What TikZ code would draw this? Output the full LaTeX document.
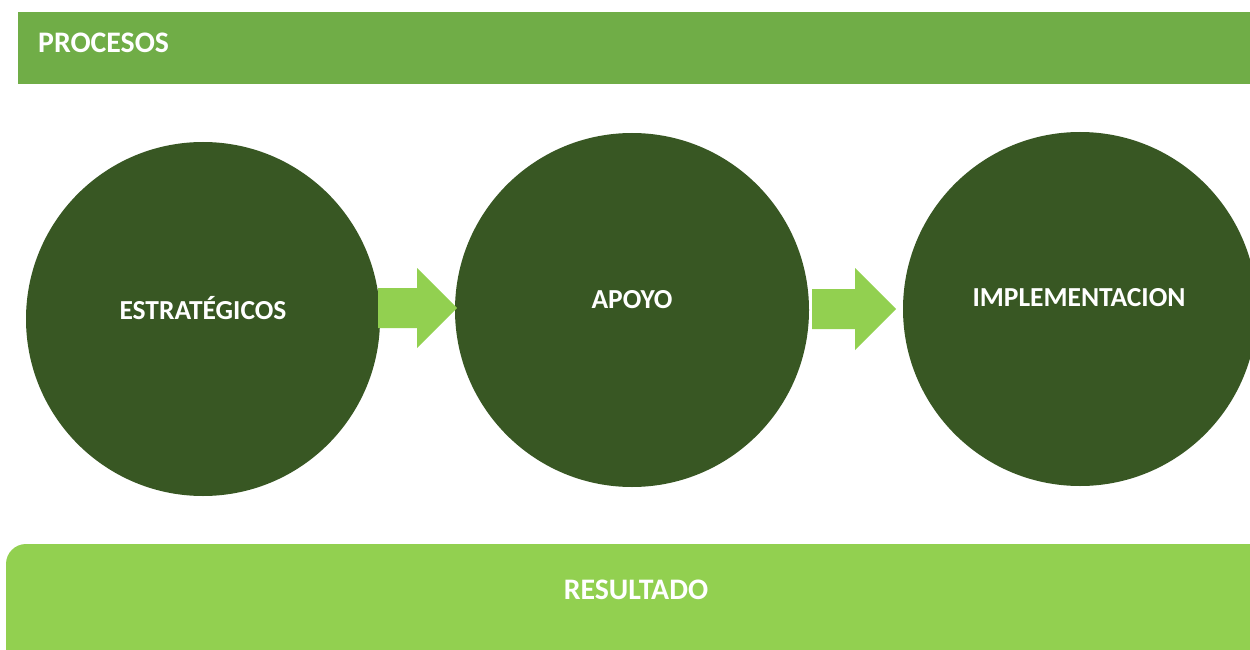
\documentclass[tikz,border=0pt]{standalone}
\usepackage{fontspec}
\setmainfont{Carlito}
\definecolor{barGreen}{HTML}{70AD47}
\definecolor{darkGreen}{HTML}{385723}
\definecolor{lightGreen}{HTML}{92D050}
\tikzset{
  px/.style={x=1pt,y=-1pt},
  lbl/.style={text=white,font=\fontsize{27.5}{32}\selectfont\bfseries,inner sep=0pt},
  barlbl/.style={lbl,font=\fontsize{29.8}{34}\selectfont\bfseries},
  stage/.style={circle,fill=darkGreen,minimum size=354pt,inner sep=0pt},
  flow/.style={fill=lightGreen}
}
\begin{document}
\begin{tikzpicture}[px]
\useasboundingbox (0,0) rectangle (1250,650);
\clip (0,0) rectangle (1250,650);
% top bar
\fill[barGreen] (18,12) rectangle (1260,84);
\node[barlbl,anchor=west] (procesos) at (38,43) {PROCESOS};
% circles
\node[stage] (c1) at (203,319) {};
\node[stage] (c2) at (632,310) {};
\node[stage] (c3) at (1080,309) {};
\node[lbl] (t1) at (203,308) {ESTRATÉGICOS};
\node[lbl] (t2) at (632,300) {APOYO};
\node[lbl] (t3) at (1079,298) {IMPLEMENTACION};
% arrows
\fill[flow] (378,288) -- (417,288) -- (417,268) -- (457,308) -- (417,348) -- (417,328) -- (378,328) -- cycle;
\fill[flow] (812,289) -- (855,289) -- (855,268) -- (896,309) -- (855,350) -- (855,329) -- (812,329) -- cycle;
% bottom bar
\fill[lightGreen,rounded corners=20pt] (6,544) rectangle (1290,690);
\node[barlbl] (res) at (636,590) {RESULTADO};
\end{tikzpicture}
\end{document}
